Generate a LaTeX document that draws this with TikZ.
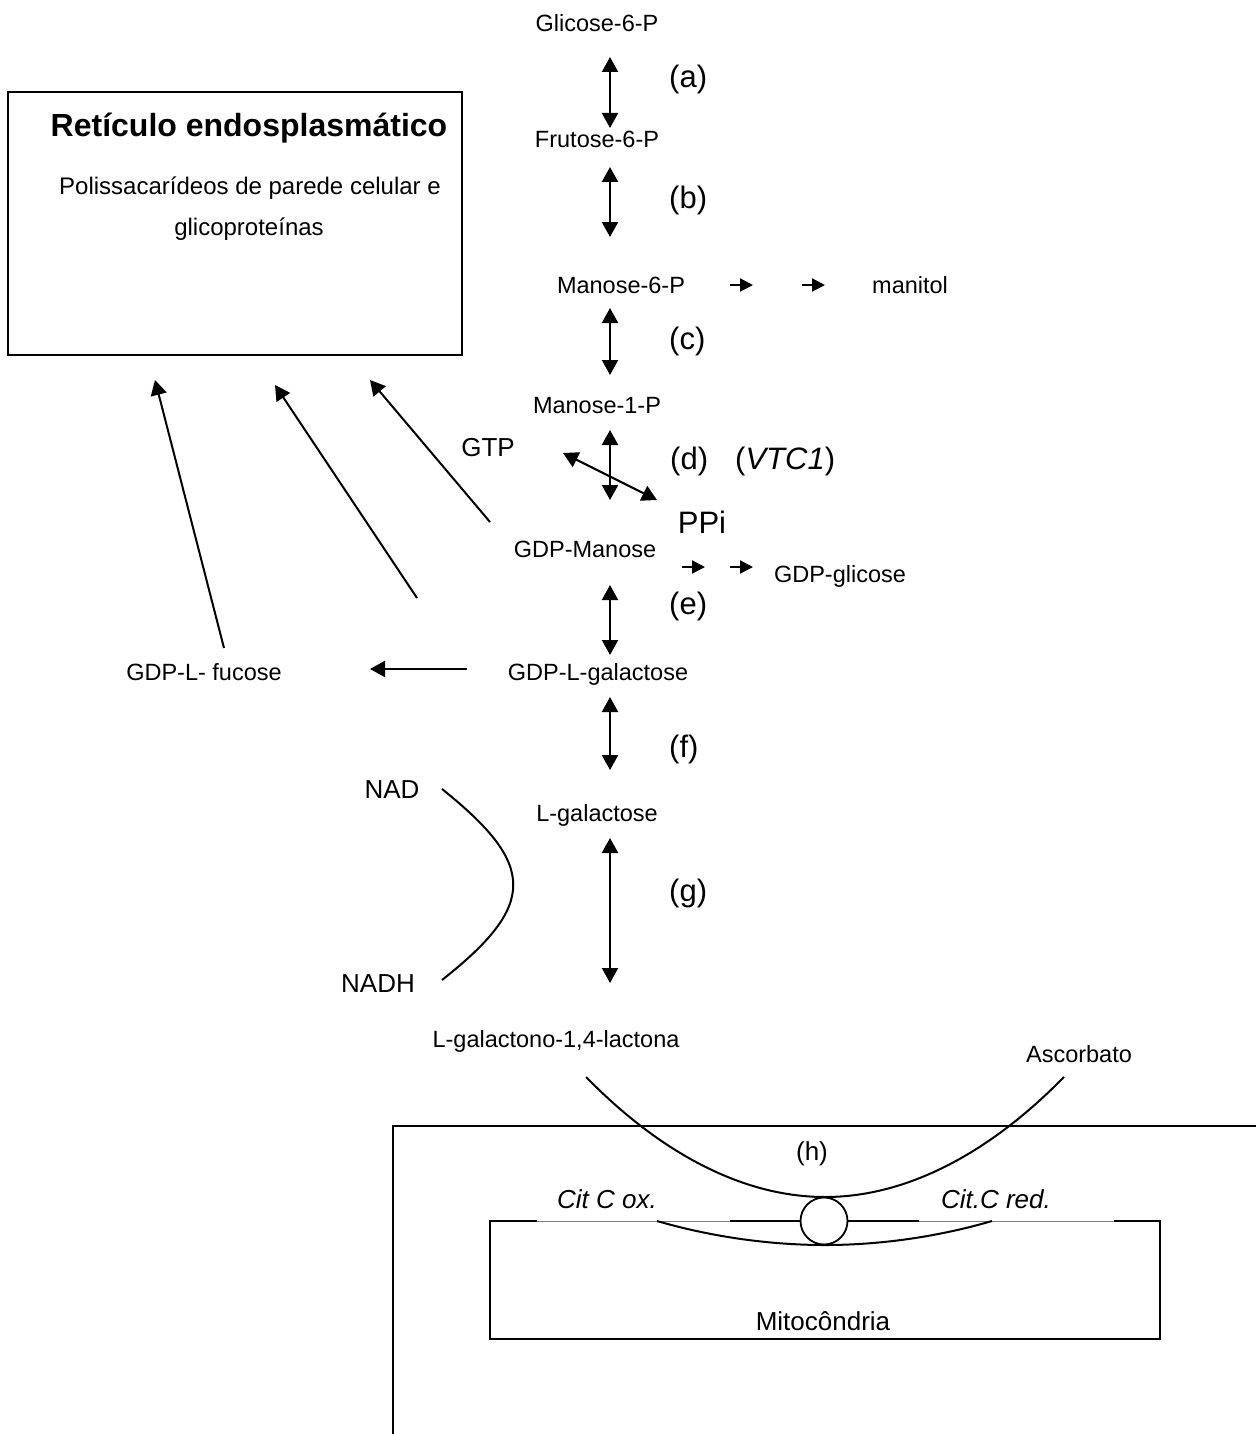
\documentclass[tikz,border=0pt]{standalone}
\usepackage{fontspec}
\setmainfont{Liberation Sans}
\usetikzlibrary{arrows.meta}
\begin{document}
\begin{tikzpicture}[x=1pt,y=-1pt,
  txt/.style={font=\fontsize{23.5}{28}\selectfont,inner sep=0pt,anchor=base},
  mtxt/.style={font=\fontsize{26}{31}\selectfont,inner sep=0pt,anchor=base},
  lbl/.style={font=\fontsize{31}{37}\selectfont,inner sep=0pt,anchor=base west},
  bighead/.tip={Triangle[length=15pt,width=16pt]},
  smallhead/.tip={Triangle[length=13pt,width=13pt]},
  darr/.style={line width=2.2pt,bighead-bighead},
  sarr/.style={line width=2pt,-smallhead},
  larr/.style={line width=2pt,-bighead},
  curve/.style={line width=2pt},
  frame/.style={line width=2.2pt}]
\useasboundingbox (0,0) rectangle (1256,1434);

% ER box
\draw[frame] (8,92) rectangle (462,355);
\node[font=\bfseries\fontsize{32}{38}\selectfont,inner sep=0pt,anchor=base] (ertitle) at (249,137) {Retículo endosplasmático};
\node[txt,font=\fontsize{24}{29}\selectfont] (er1) at (250,195) {Polissacarídeos de parede celular e};
\node[txt,font=\fontsize{24}{29}\selectfont] (er2) at (249,235) {glicoproteínas};

% main chain
\node[txt] (glc) at (597,32) {Glicose-6-P};
\node[txt] (fru) at (597,148) {Frutose-6-P};
\node[txt] (man6) at (621,293) {Manose-6-P};
\node[txt,anchor=base west] (manitol) at (872,293) {manitol};
\node[txt] (man1) at (597,413) {Manose-1-P};
\node[mtxt] (gtp) at (488,456) {GTP};
\node[txt,font=\fontsize{31}{37}\selectfont] (ppi) at (702,533) {PPi};
\node[txt] (gdpman) at (585,557) {GDP-Manose};
\node[txt] (gdpglc) at (840,582) {GDP-glicose};
\node[txt] (gdpgal) at (598,680) {GDP-L-galactose};
\node[txt] (gdpfuc) at (204,680) {GDP-L- fucose};
\node[txt] (lgal) at (597,821) {L-galactose};
\node[mtxt] (nad) at (392,798) {NAD};
\node[mtxt] (nadh) at (378,992) {NADH};
\node[txt] (lgl) at (556,1047) {L-galactono-1,4-lactona};
\node[txt] (asc) at (1079,1062) {Ascorbato};

% step labels
\node[lbl] (la) at (669,88) {(a)};
\node[lbl] (lb) at (669,208) {(b)};
\node[lbl] (lc) at (669,349) {(c)};
\node[lbl] (ld) at (670,469) {(d)};
\node[lbl] (lvtc) at (735,469) {(\textit{VTC1})};
\node[lbl] (le) at (669,614) {(e)};
\node[lbl] (lf) at (669,757) {(f)};
\node[lbl] (lg) at (669,901) {(g)};

% arrow end points
\coordinate (a1) at (610,57);  \coordinate (a2) at (610,128);
\coordinate (b1) at (610,167); \coordinate (b2) at (610,237);
\coordinate (c1) at (610,308); \coordinate (c2) at (610,375);
\coordinate (d1) at (610,430); \coordinate (d2) at (610,500);
\coordinate (e1) at (610,585); \coordinate (e2) at (610,655);
\coordinate (f1) at (610,697); \coordinate (f2) at (610,770);
\coordinate (g1) at (610,838); \coordinate (g2) at (610,983);
\draw[darr] (a1) -- (a2);
\draw[darr] (b1) -- (b2);
\draw[darr] (c1) -- (c2);
\draw[darr] (d1) -- (d2);
\draw[darr] (e1) -- (e2);
\draw[darr] (f1) -- (f2);
\draw[darr] (g1) -- (g2);

% GTP / PPi
\coordinate (gt) at (563,453); \coordinate (pp) at (657,500);
\draw[darr] (gt) -- (pp);

% mannitol branch
\coordinate (m1) at (730,285); \coordinate (m2) at (753,285);
\coordinate (m3) at (802,285); \coordinate (m4) at (825,285);
\draw[sarr] (m1) -- (m2);
\draw[sarr] (m3) -- (m4);

% GDP-glicose branch
\coordinate (q1) at (682,567); \coordinate (q2) at (705,567);
\coordinate (q3) at (730,567); \coordinate (q4) at (753,567);
\draw[sarr] (q1) -- (q2);
\draw[sarr] (q3) -- (q4);

% fucose
\coordinate (fu1) at (467,669); \coordinate (fu2) at (370,669);
\draw[larr] (fu1) -- (fu2);

% arrows to ER
\coordinate (r1) at (490,522); \coordinate (r1e) at (370,380);
\coordinate (r2) at (417,598); \coordinate (r2e) at (275,385);
\coordinate (r3) at (224,648); \coordinate (r3e) at (155,380);
\draw[larr] (r1) -- (r1e);
\draw[larr] (r2) -- (r2e);
\draw[larr] (r3) -- (r3e);

% NAD / NADH
\coordinate (n1) at (442,789); \coordinate (n2) at (442,980);
\draw[curve] (n1) .. controls (537,865) and (537,905) .. (n2);

% cell frame
\draw[frame] (393,1434) -- (393,1126) -- (1256,1126);

% (h) curve
\coordinate (h1) at (586,1077); \coordinate (hb) at (825,1197); \coordinate (h2) at (1064,1077);
\draw[curve] (h1) parabola bend (hb) (h2);
\node[mtxt] (lh) at (812,1160) {(h)};

% mitochondria
\draw[frame] (537,1221) -- (490,1221) -- (490,1339) -- (1160,1339) -- (1160,1221) -- (1114,1221);
\draw[gray,line width=0.8pt] (537,1221) -- (1114,1221);
\draw[frame] (730,1221) -- (919,1221);
\coordinate (lw1) at (657,1221); \coordinate (lwb) at (825,1245); \coordinate (lw2) at (992,1221);
\draw[curve] (lw1) parabola bend (lwb) (lw2);
\node[draw,circle,line width=1.8pt,fill=white,minimum size=47pt,inner sep=0pt] (cyt) at (824,1221) {};
\node[mtxt,font=\itshape\fontsize{26}{31}\selectfont] (cox) at (607,1208) {Cit C ox.};
\node[mtxt,font=\itshape\fontsize{26}{31}\selectfont] (cred) at (996,1208) {Cit.C red.};
\node[mtxt] (mito) at (823,1330) {Mitocôndria};
\end{tikzpicture}
\end{document}
